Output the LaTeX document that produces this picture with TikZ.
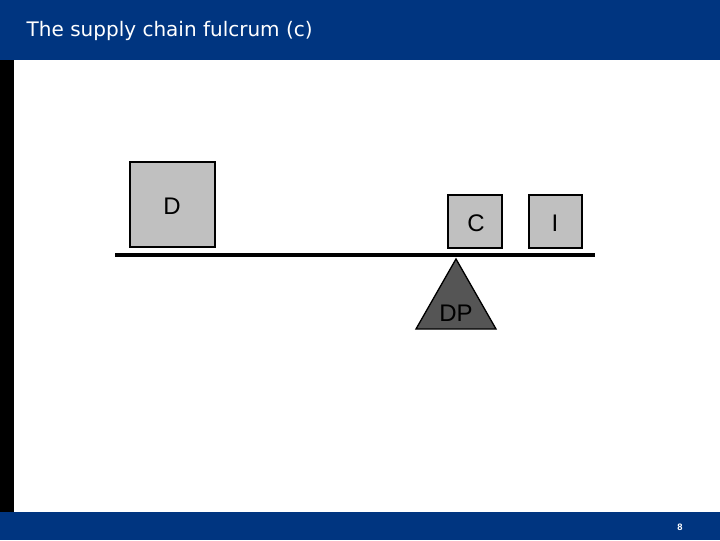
\documentclass[tikz,border=0pt]{standalone}
\usepackage{fontspec}
\setmainfont{Liberation Sans}
\newfontfamily\titlefont{DejaVu Sans}
\definecolor{barblue}{RGB}{0,53,128}
\definecolor{boxgray}{RGB}{192,192,192}
\definecolor{pivotgray}{RGB}{85,85,85}
\begin{document}
\begin{tikzpicture}[x=0.75pt,y=-0.75pt,
  weight/.style={draw=black,fill=boxgray,line width=1pt},
  lbl/.style={font=\fontsize{18}{20}\selectfont,inner sep=0pt}]
\useasboundingbox (0,0) rectangle (720,540);

% bars
\fill[barblue] (0,0) rectangle (720,60);
\fill[barblue] (0,512) rectangle (720,540);
\fill[black] (0,60) rectangle (14,512);
\node[anchor=west,text=white,font=\titlefont\fontsize{15}{18}\selectfont] (title) at (22,31) {The supply chain fulcrum (c)};
\node[text=white,font=\fontsize{7}{8}\selectfont\bfseries] (page) at (680,527) {8};

% weights
\draw[weight] (130,162) rectangle (215,247);
\node[lbl] (d) at (172,206) {D};
\draw[weight] (448,195) rectangle (502,248);
\node[lbl] (c) at (476,223) {C};
\draw[weight] (529,195) rectangle (582,248);
\node[lbl] (i) at (555,223) {I};

% beam
\coordinate (beamL) at (115,255);
\coordinate (beamR) at (595,255);
\draw[line width=2.3pt] (beamL)--(beamR);

% pivot
\coordinate (apex) at (456,259);
\fill[pivotgray,draw=black,line width=1pt] (apex)--(496,329)--(416,329)--cycle;
\node[lbl] (dp) at (456,313) {DP};
\end{tikzpicture}
\end{document}
